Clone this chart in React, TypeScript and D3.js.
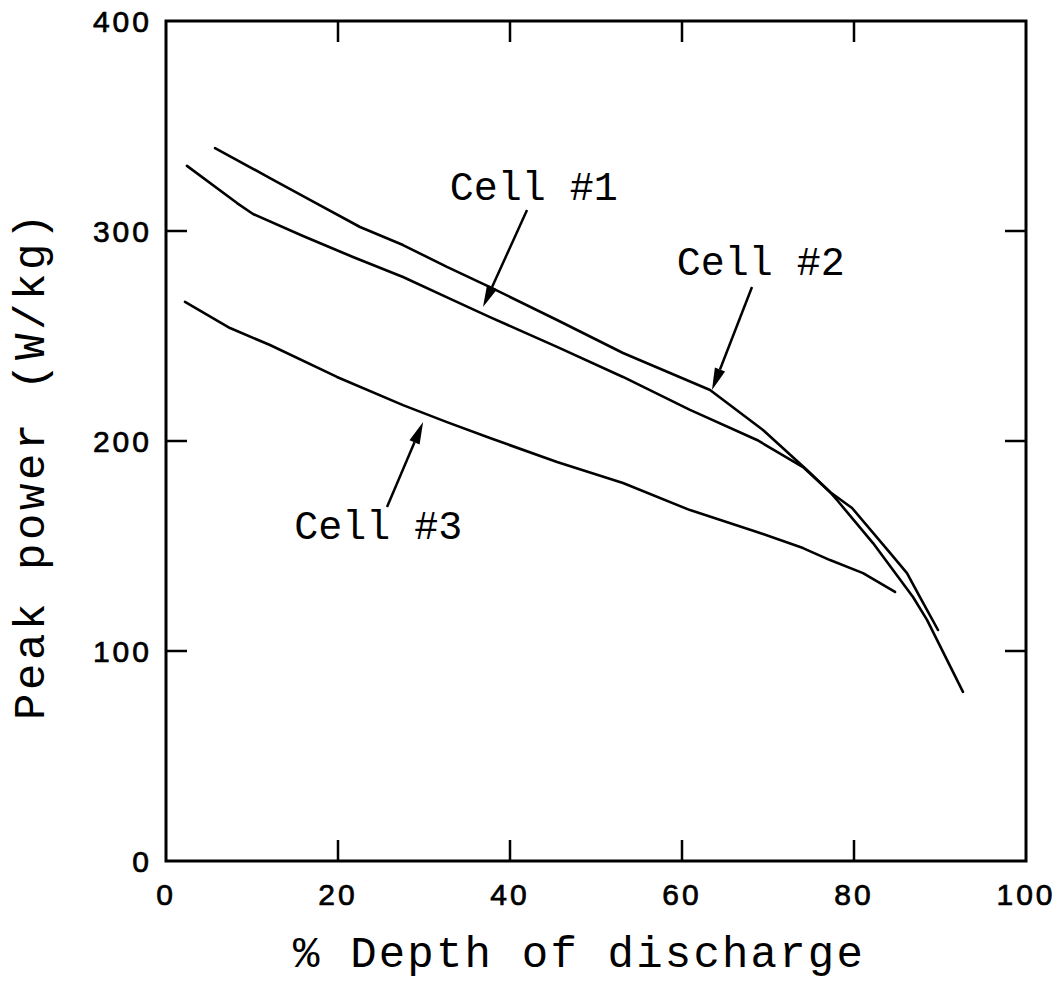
import React from "react";
import * as d3 from "d3";

// ---- data ----
const cell1X = [2.44, 8.26, 10.12, 15.93, 21.74, 27.56, 33.37, 37.67, 45.47, 53.14, 60.93, 68.72, 74.07, 77.21, 79.77, 84.19, 86.16, 87.67, 89.77];
const cell1Y = [331.0, 313.3, 308.1, 297.6, 287.6, 278.1, 267.1, 259.0, 244.8, 230.5, 214.8, 200.5, 187.6, 175.7, 168.1, 146.7, 137.1, 125.7, 110.0];

const cell2X = [5.7, 12.09, 16.74, 22.56, 27.56, 32.67, 37.67, 45.47, 53.14, 63.26, 69.42, 74.53, 77.21, 78.02, 82.21, 86.86, 88.49, 92.67];
const cell2Y = [339.5, 325.2, 314.8, 301.9, 293.3, 282.9, 273.3, 257.6, 241.9, 224.3, 205.2, 186.2, 175.7, 171.9, 151.4, 125.7, 114.8, 80.5];

const cell3X = [2.21, 7.44, 12.09, 19.88, 27.56, 32.67, 37.67, 45.47, 53.14, 60.93, 68.72, 74.07, 77.21, 81.05, 84.77];
const cell3Y = [266.2, 253.8, 245.7, 230.5, 217.1, 209.0, 201.4, 190.0, 180.0, 167.1, 156.7, 149.0, 143.3, 137.1, 128.1];

const xTicks = [0, 20, 40, 60, 80, 100];
const yTicks = [0, 100, 200, 300, 400];

const labelNames = ["Cell #1", "Cell #2", "Cell #3"];
const labelX = [33.0, 59.4, 14.9];
const labelY = [314.8, 279.0, 153.3];
const arrowFromX = [41.98, 68.14, 25.7];
const arrowFromY = [310.0, 273.3, 168.6];
const arrowToX = [36.86, 63.49, 29.9];
const arrowToY = [263.8, 224.3, 209.0];

const xTitle = "% Depth of discharge";
const yTitle = "Peak power (W/kg)";

// ---- layout ----
const W = 1059;
const H = 981;
const left = 166;
const right = 1026;
const top = 21;
const bottom = 861;

export default function App() {
  const x = d3.scaleLinear().domain([0, 100]).range([left, right]);
  const y = d3.scaleLinear().domain([0, 400]).range([bottom, top]);

  const series = [
    cell1X.map((v, i) => [v, cell1Y[i]] as [number, number]),
    cell2X.map((v, i) => [v, cell2Y[i]] as [number, number]),
    cell3X.map((v, i) => [v, cell3Y[i]] as [number, number]),
  ];
  const line = d3
    .line<[number, number]>()
    .x((d) => x(d[0]))
    .y((d) => y(d[1]))
    .curve(d3.curveLinear);

  const tickLen = 21;
  const mono = "'Liberation Mono', 'Courier New', monospace";
  const sans = "'Liberation Sans', Arial, sans-serif";

  const arrows = labelNames.map((_, i) => {
    const x1 = x(arrowFromX[i]);
    const y1 = y(arrowFromY[i]);
    const x2 = x(arrowToX[i]);
    const y2 = y(arrowToY[i]);
    const ang = Math.atan2(y2 - y1, x2 - x1);
    const hl = 22;
    const hw = 5.5;
    const bx = x2 - hl * Math.cos(ang);
    const by = y2 - hl * Math.sin(ang);
    const px = -Math.sin(ang) * hw;
    const py = Math.cos(ang) * hw;
    return { x1, y1, bx, by, x2, y2, head: `M${x2},${y2} L${bx + px},${by + py} L${bx - px},${by - py} Z` };
  });

  return (
    <svg
      width={W}
      height={H}
      viewBox={`0 0 ${W} ${H}`}
      style={{ position: "absolute", left: 0, top: 0, background: "#fff" }}
    >
      <rect x={0} y={0} width={W} height={H} fill="#fff" />
      {/* frame */}
      <rect x={left} y={top} width={right - left} height={bottom - top} fill="none" stroke="#000" strokeWidth={3} />

      {/* x ticks bottom and top */}
      {xTicks.slice(1, -1).map((t) => (
        <g key={"xt" + t}>
          <line x1={x(t)} x2={x(t)} y1={bottom} y2={bottom - tickLen} stroke="#000" strokeWidth={2.5} />
          <line x1={x(t)} x2={x(t)} y1={top} y2={top + tickLen} stroke="#000" strokeWidth={2.5} />
        </g>
      ))}
      {xTicks.map((t) => (
        <text
          key={"xl" + t}
          x={x(t)}
          y={905}
          textAnchor="middle"
          fontFamily={sans}
          fontSize={30}
          letterSpacing={3}
          fill="#000"
          stroke="#000"
          strokeWidth={0.7}
        >
          {t}
        </text>
      ))}

      {/* y ticks left and right */}
      {yTicks.slice(1, -1).map((t) => (
        <g key={"yt" + t}>
          <line x1={left} x2={left + tickLen} y1={y(t)} y2={y(t)} stroke="#000" strokeWidth={2.5} />
          <line x1={right} x2={right - tickLen} y1={y(t)} y2={y(t)} stroke="#000" strokeWidth={2.5} />
        </g>
      ))}
      {yTicks.map((t) => (
        <text
          key={"yl" + t}
          x={152}
          y={y(t)}
          dy="0.36em"
          textAnchor="end"
          fontFamily={sans}
          fontSize={30}
          letterSpacing={3}
          fill="#000"
          stroke="#000"
          strokeWidth={0.7}
        >
          {t}
        </text>
      ))}

      {/* data lines */}
      {series.map((s, i) => (
        <path key={"s" + i} d={line(s) || ""} fill="none" stroke="#000" strokeWidth={2.6} strokeLinejoin="round" strokeLinecap="round" />
      ))}

      {/* annotations */}
      {labelNames.map((name, i) => (
        <g key={"ann" + i}>
          <text x={x(labelX[i])} y={y(labelY[i])} fontFamily={mono} fontSize={40} fill="#000">
            {name}
          </text>
          <line x1={arrows[i].x1} y1={arrows[i].y1} x2={arrows[i].bx} y2={arrows[i].by} stroke="#000" strokeWidth={2.5} />
          <path d={arrows[i].head} fill="#000" />
        </g>
      ))}

      {/* axis titles */}
      <text x={(left + right) / 2 - 17} y={967} textAnchor="middle" fontFamily={mono} fontSize={44} letterSpacing={2.2} fill="#000">
        {xTitle}
      </text>
      <text
        transform={`translate(44, ${(top + bottom) / 2 + 24}) rotate(-90)`}
        textAnchor="middle"
        fontFamily={mono}
        fontSize={44}
        letterSpacing={3.6}
        fill="#000"
      >
        {yTitle}
      </text>
    </svg>
  );
}
